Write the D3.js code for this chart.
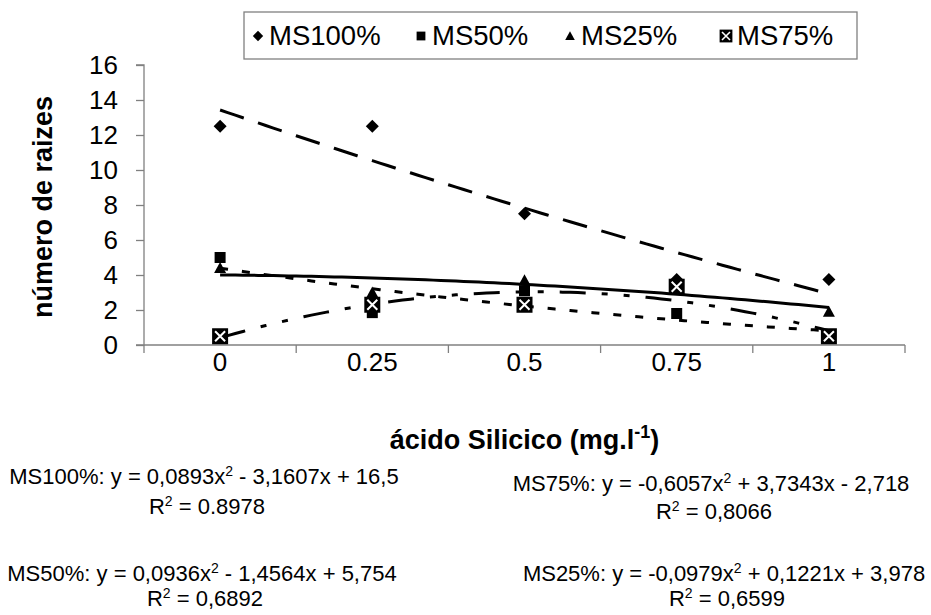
<!DOCTYPE html>
<html>
<head>
<meta charset="utf-8">
<script src="https://cdn.jsdelivr.net/npm/d3@7"></script>
<style>
  body { margin: 0; background: #fff; }
  svg text { font-family: "Liberation Sans", Arial, sans-serif; fill: #000; }
</style>
</head>
<body>
<div id="container"></div>
<script>
// categories on the x axis (Excel category axis, trend x = 1..5)
const categories = ["0", "0.25", "0.5", "0.75", "1"];
const seriesNames = ["MS100%", "MS50%", "MS25%", "MS75%"];

// values
const ms100 = [12.5, 12.5, 7.5, 3.75, 3.75];
const ms50 = [5, 1.85, 3.1, 1.8, 0.4];
const ms25 = [4.4, 3.0, 3.7, 3.33, 1.9];
const ms75 = [0.5, 2.3, 2.3, 3.33, 0.5];

// printed trendline coefficients (a x^2 + b x + c)
const ms100Trend = [0.0893, -3.1607, 16.5];
const ms50Trend = [0.0936, -1.4564, 5.754];
const ms25Trend = [-0.0979, 0.1221, 3.978];
const ms75Trend = [-0.6057, 3.7343, -2.718];

const yTicks = [0, 2, 4, 6, 8, 10, 12, 14, 16];

const eqLabels = [
  ["MS100%: y = 0,0893x", "2", " - 3,1607x + 16,5", "0.8978"],
  ["MS75%: y = -0,6057x", "2", " + 3,7343x - 2,718", "0,8066"],
  ["MS50%: y = 0,0936x", "2", " - 1,4564x + 5,754", "0,6892"],
  ["MS25%: y = -0,0979x", "2", " + 0,1221x + 3,978", "0,6599"]
];

const w = 931;
const h = 615;
const pLeft = 144, pRight = 905, pTop = 65, pBottom = 345;

const svg = d3.select("#container").append("svg")
  .attr("width", w).attr("height", h);

const x = d3.scaleBand().domain(categories).range([pLeft, pRight]).padding(0);
const y = d3.scaleLinear().domain([0, 16]).range([pBottom, pTop]);
// trend x index 1..5 -> category centres
const xi = d3.scaleLinear().domain([1, 5])
  .range([x(categories[0]) + x.bandwidth() / 2, x(categories[4]) + x.bandwidth() / 2]);

// axes
const yAxis = d3.axisLeft(y).tickValues(yTicks).tickSize(8).tickPadding(18);
const gy = svg.append("g").attr("transform", `translate(${pLeft},0)`).call(yAxis);
gy.selectAll("text").style("font-size", "26px");

const xAxis = d3.axisBottom(x).tickSize(0).tickPadding(8);
const gx = svg.append("g").attr("transform", `translate(0,${pBottom})`).call(xAxis);
gx.selectAll("text").style("font-size", "26px");
// tick marks at the category boundaries
gx.selectAll("line.bound").data(d3.range(6)).enter().append("line")
  .attr("class", "bound")
  .attr("x1", i => pLeft + i * x.bandwidth()).attr("x2", i => pLeft + i * x.bandwidth())
  .attr("y1", 0).attr("y2", 8);
svg.selectAll(".domain, .tick line, line.bound").attr("stroke", "#808080").attr("stroke-width", 1.3);
gy.select(".domain").attr("d", `M-8,${pTop}H0V${pBottom}H-8`);
gx.select(".domain").attr("d", `M${pLeft},0H${pRight}`);

// trendlines
const trendSeries = [
  { coef: ms100Trend, dash: "25,15", width: 3 },
  { coef: ms50Trend, dash: "8,14", width: 3 },
  { coef: ms25Trend, dash: null, width: 3 },
  { coef: ms75Trend, dash: "26,16,6,16,6,16", width: 3 }
];
const line = d3.line().x(d => xi(d[0])).y(d => y(d[1]));
trendSeries.forEach(t => {
  const pts = d3.range(1, 5.001, 0.05).map(v => [v, t.coef[0] * v * v + t.coef[1] * v + t.coef[2]]);
  svg.append("path").datum(pts)
    .attr("d", line)
    .attr("fill", "none")
    .attr("stroke", "#000")
    .attr("stroke-width", t.width)
    .attr("stroke-dasharray", t.dash);
});

// marker drawing
function drawMarker(g, kind, cx, cy, s) {
  s = s || 1;
  if (kind === 0) {
    const r = 6.5 * s;
    g.append("path").attr("d", `M${cx},${cy - r}L${cx + r},${cy}L${cx},${cy + r}L${cx - r},${cy}Z`).attr("fill", "#000");
  } else if (kind === 1) {
    const r = 5.5 * s;
    g.append("rect").attr("x", cx - r).attr("y", cy - r).attr("width", 2 * r).attr("height", 2 * r).attr("fill", "#000");
  } else if (kind === 2) {
    const r = 6 * s;
    g.append("path").attr("d", `M${cx},${cy - r}L${cx + r},${cy + r * 0.85}L${cx - r},${cy + r * 0.85}Z`).attr("fill", "#000");
  } else {
    const r = 8 * s, q = 5 * s;
    g.append("rect").attr("x", cx - r).attr("y", cy - r).attr("width", 2 * r).attr("height", 2 * r).attr("fill", "#000");
    g.append("path").attr("d", `M${cx - q},${cy - q}L${cx + q},${cy + q}M${cx + q},${cy - q}L${cx - q},${cy + q}`)
      .attr("stroke", "#fff").attr("stroke-width", 2 * s);
  }
}

const allSeries = [ms100, ms50, ms25, ms75];
allSeries.forEach((vals, k) => {
  const g = svg.append("g");
  vals.forEach((v, i) => drawMarker(g, k, x(categories[i]) + x.bandwidth() / 2, y(v)));
});

// legend
svg.append("rect").attr("x", 244).attr("y", 12).attr("width", 613).attr("height", 47)
  .attr("fill", "#fff").attr("stroke", "#808080").attr("stroke-width", 1.3);
const legX = [258, 421, 570, 726];
seriesNames.forEach((name, k) => {
  const g = svg.append("g");
  drawMarker(g, k, legX[k], 36, 0.8);
  svg.append("text").attr("x", legX[k] + 11).attr("y", 45)
    .style("font-size", "27.5px").text(name);
});

// axis titles
svg.append("text")
  .attr("transform", `translate(52,${(pTop + pBottom) / 2 + 2}) rotate(-90)`)
  .attr("text-anchor", "middle")
  .style("font-size", "27px").style("font-weight", "bold")
  .text("número de raizes");

const xt = svg.append("text")
  .attr("x", (pLeft + pRight) / 2).attr("y", 449)
  .attr("text-anchor", "middle")
  .style("font-size", "27px").style("font-weight", "bold");
xt.append("tspan").text("ácido Silicico (mg.l");
xt.append("tspan").attr("dy", -11).style("font-size", "18px").text("-1");
xt.append("tspan").attr("dy", 11).text(")");

// trendline equations
const eqPos = [[204, 484, 514], [711, 491, 519], [202, 581, 606], [724, 581, 606]];
eqLabels.forEach((e, i) => {
  const t = svg.append("text").attr("x", eqPos[i][0]).attr("y", eqPos[i][1])
    .attr("text-anchor", "middle").style("font-size", "22px");
  t.append("tspan").text(e[0]);
  t.append("tspan").attr("dy", -8).style("font-size", "14px").text(e[1]);
  t.append("tspan").attr("dy", 8).text(e[2]);
  const r = svg.append("text").attr("x", eqPos[i][0] + 3).attr("y", eqPos[i][2])
    .attr("text-anchor", "middle").style("font-size", "22px");
  r.append("tspan").text("R");
  r.append("tspan").attr("dy", -8).style("font-size", "14px").text("2");
  r.append("tspan").attr("dy", 8).text(" = " + e[3]);
});
</script>
</body>
</html>
